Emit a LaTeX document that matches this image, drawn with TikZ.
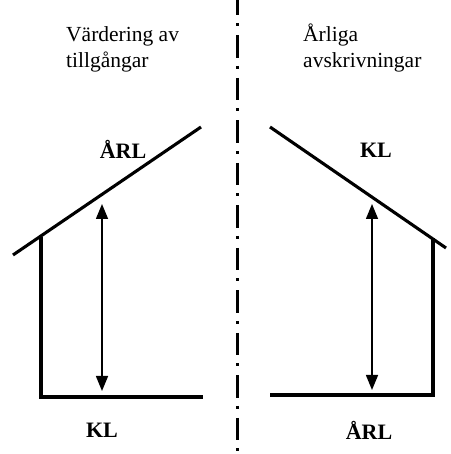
\documentclass[tikz,border=0pt]{standalone}
\usepackage{fontspec}
\setmainfont{Liberation Serif}
\usetikzlibrary{arrows.meta}
\tikzset{
  house/.style={line width=3.1pt},
  measure/.style={{Triangle[length=15pt,width=12pt]}-{Triangle[length=15pt,width=12pt]},line width=1.5pt},
  divider/.style={line width=3pt,dash pattern=on 22.5pt off 8pt on 3pt off 9pt},
  caption/.style={anchor=base west,inner sep=0pt,font=\fontsize{21.5}{25}\selectfont},
  tag/.style={inner sep=0pt,font=\fontsize{22}{26}\selectfont\bfseries}
}

\begin{document}
\begin{tikzpicture}[x=1pt,y=1pt]
    \useasboundingbox (0,0) rectangle (450,454);
    \draw[divider] (237,461)--(237,-5);
    % left side
    \node[caption] (vlineA) at (66,412){Värdering av};
    \node[caption] (vlineB) at (66,386){tillgångar};
    \draw[house] (13,199)--(201,327);
    \draw[house] (41,217)--(41,57)--(203,57);
    \coordinate (ltop) at (102,250); \coordinate (lbot) at (102,63);
    \draw[measure] (lbot)--(ltop);
    \node[tag] (lupper) at (123,305){ÅRL};
    \node[tag] (llower) at (102,24){KL};
    % right side
    \node[caption] (alineA) at (303,412){Årliga};
    \node[caption] (alineB) at (303,386){avskrivningar};
    \draw[house] (270,327)--(446,206);
    \draw[house] (433,216)--(433,59)--(270,59);
    \coordinate (rtop) at (372,250); \coordinate (rbot) at (372,64);
    \draw[measure] (rbot)--(rtop);
    \node[tag] (rupper) at (376,304){KL};
    \node[tag] (rlower) at (369,24){ÅRL};
  \end{tikzpicture}
\end{document}
